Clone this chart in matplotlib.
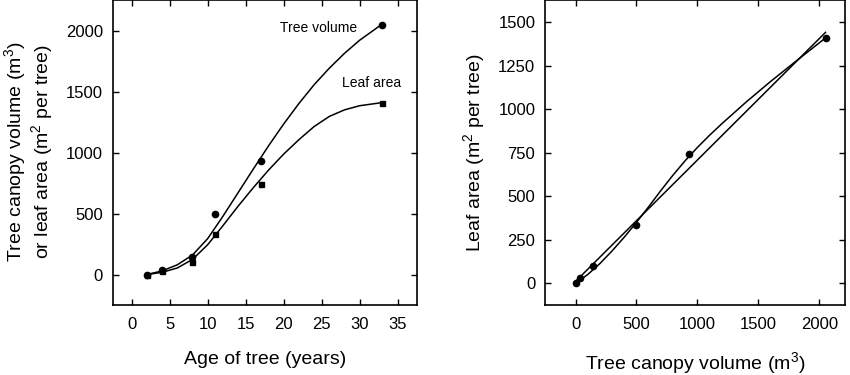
import numpy as np
import matplotlib
matplotlib.use('Agg')
import matplotlib.pyplot as plt

plt.rcParams['font.family'] = 'Liberation Sans'
plt.rcParams['mathtext.fontset'] = 'custom'
plt.rcParams['mathtext.rm'] = 'Liberation Sans'
plt.rcParams['mathtext.it'] = 'Liberation Sans'

# measured points
age = [2, 4, 8, 11, 17, 33]
tree_volume = [0, 40, 140, 500, 930, 2050]
leaf_area = [0, 28, 100, 335, 745, 1410]

# fitted curves
fit_age = [2, 4, 6, 8, 10, 12, 14, 16, 18, 20, 22, 24, 26, 28, 30, 33]
fit_volume = [0, 30, 80, 160, 295, 478, 672, 866, 1056, 1236, 1404, 1558, 1694, 1816, 1924, 2058]
fit_leaf = [0, 18, 54, 124, 245, 401, 561, 713, 857, 989, 1107, 1215, 1298, 1352, 1386, 1412]

# curved fit (leaf area vs canopy volume)
curve_volume = [0, 100, 200, 300, 400, 500, 600, 700, 800, 900, 1000, 1100, 1200,
                1400, 1600, 1800, 2050]
curve_leaf = [0, 50, 113, 186, 265, 350, 440, 533, 622, 705, 781, 851, 917,
              1042, 1160, 1272, 1410]

fig = plt.figure(figsize=(8.5, 3.75), dpi=100)
ax1 = fig.add_axes([0.1326, 0.1867, 0.3576, 0.812])
ax2 = fig.add_axes([0.6412, 0.1867, 0.3530, 0.812])

for ax in (ax1, ax2):
    ax.tick_params(direction='in', top=True, right=True, length=4, width=1,
                   labelsize=12, pad=7)
    ax.tick_params(axis='x', pad=9)
    for s in ax.spines.values():
        s.set_linewidth(1.2)

# left panel
ax1.plot(fit_age, fit_volume, color='black', lw=1.1)
ax1.plot(fit_age, fit_leaf, color='black', lw=1.1)
ax1.plot(age, tree_volume, 'o', color='black', ms=4.5)
ax1.plot(age, leaf_area, 's', color='black', ms=3.6)
ax1.text(24.6, 2025, 'Tree volume', ha='center', va='center', fontsize=10)
ax1.text(31.5, 1576, 'Leaf area', ha='center', va='center', fontsize=10)
ax1.set_xlim(-2.5, 37.5)
ax1.set_ylim(-250, 2250)
ax1.set_xticks(range(0, 36, 5))
ax1.set_yticks(range(0, 2001, 500))
ax1.set_xlabel('Age of tree (years)', fontsize=14, labelpad=13)
fig.text(0.018, 0.595, 'Tree canopy volume (m$^3$)', rotation=90,
         ha='center', va='center', fontsize=14)
fig.text(0.050, 0.595, 'or leaf area (m$^2$ per tree)', rotation=90,
         ha='center', va='center', fontsize=14)

# right panel: leaf area vs tree volume, linear fit and curved fit
xv = np.array(tree_volume, dtype=float)
yv = np.array(leaf_area, dtype=float)
lin = np.polyfit(xv, yv, 1)
xs = np.array([xv.min(), xv.max()])
ax2.plot(xs, np.polyval(lin, xs), color='black', lw=1.1)
ax2.plot(curve_volume, curve_leaf, color='black', lw=1.1)
ax2.plot(xv, yv, 'o', color='black', ms=4.5)
ax2.set_xlim(-250, 2210)
ax2.set_ylim(-125, 1625)
ax2.set_xticks(range(0, 2001, 500))
ax2.set_yticks(range(0, 1501, 250))
ax2.set_xlabel('Tree canopy volume (m$^3$)', fontsize=14, labelpad=13)
ax2.set_ylabel('Leaf area (m$^2$ per tree)', fontsize=14, labelpad=8)

fig.savefig('out.png', dpi=100)
